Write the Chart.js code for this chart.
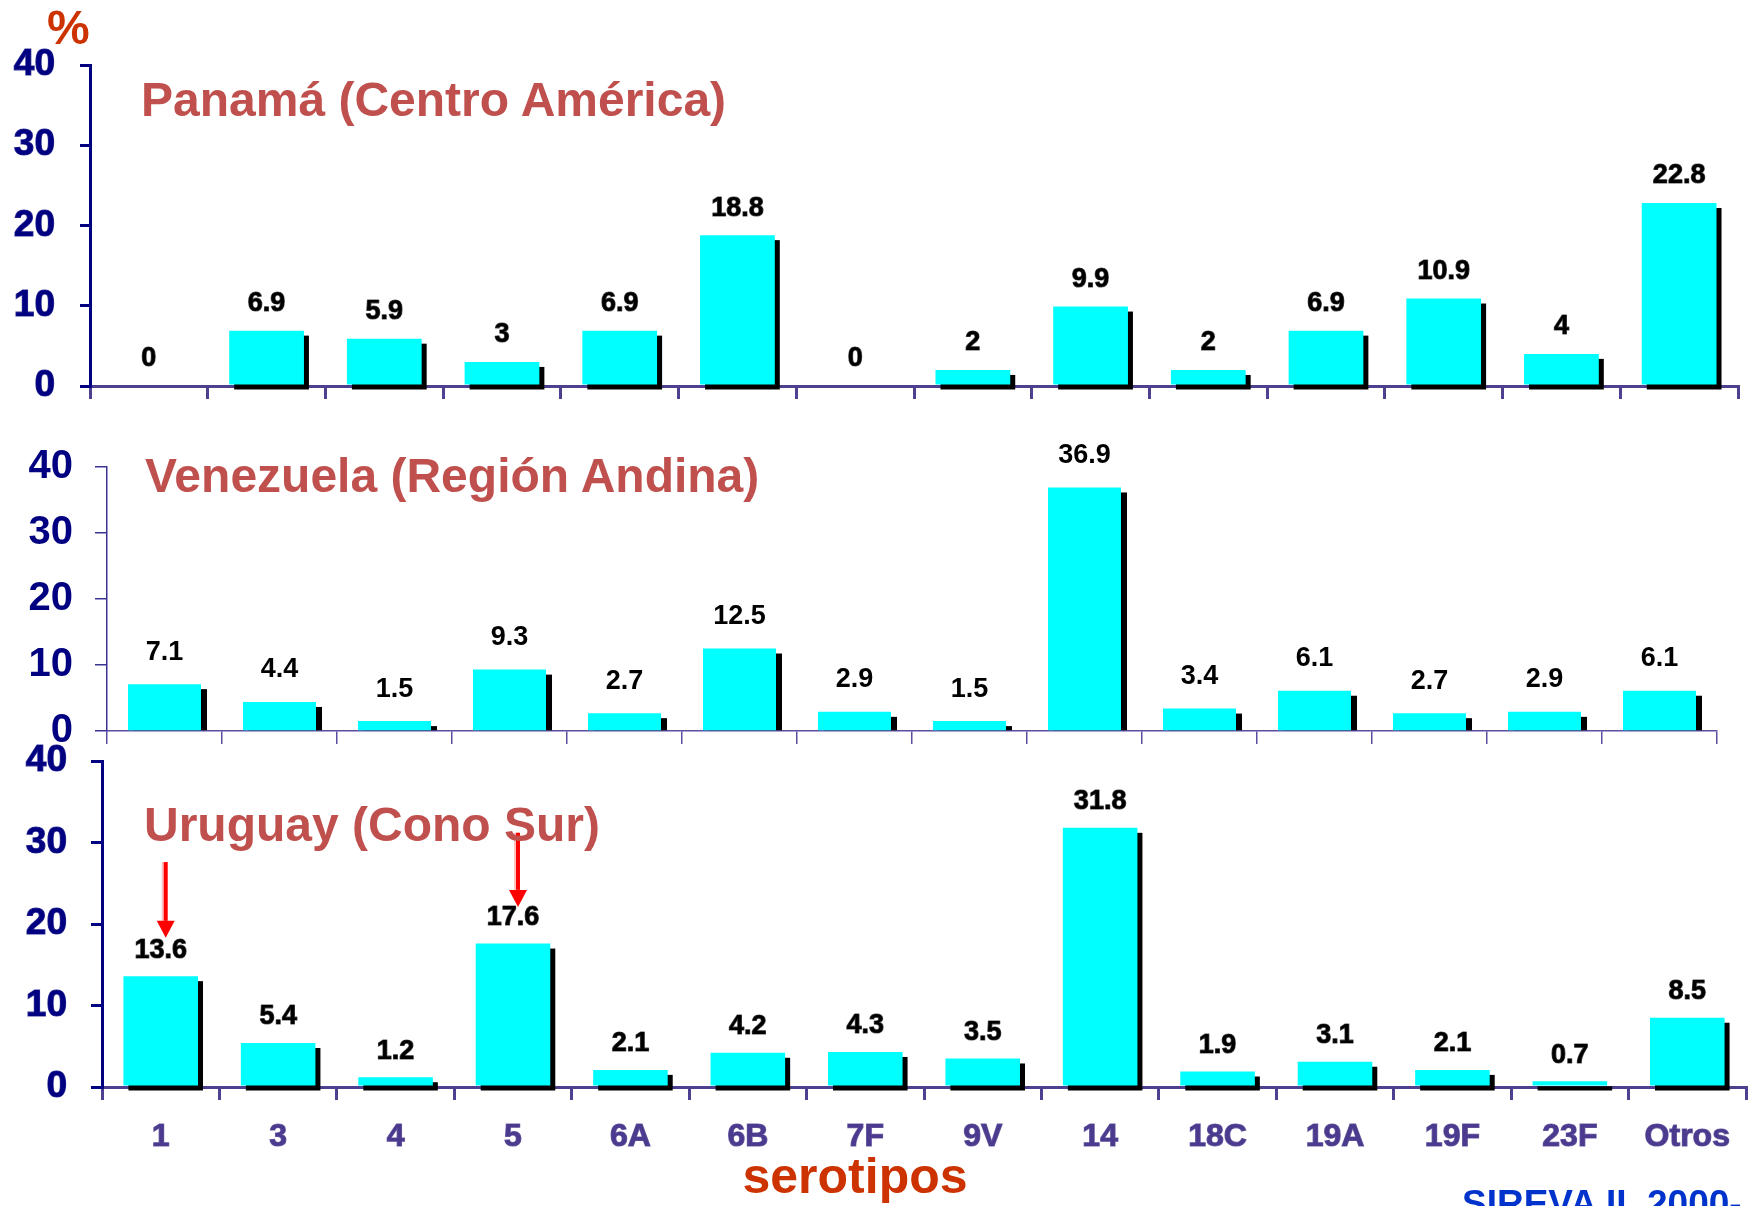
<!DOCTYPE html>
<html lang="es">
<head>
<meta charset="utf-8">
<title>Serotipos por región</title>
<script src="https://cdn.jsdelivr.net/npm/chart.js@4.4.1/dist/chart.umd.min.js"></script>
<style>
  html, body { margin: 0; padding: 0; background: #fff; }
  body { position: relative; width: 1750px; height: 1206px; overflow: hidden;
         font-family: "Liberation Sans", Arial, sans-serif; }
  canvas { position: absolute; left: 0; }
  .t { position: absolute; white-space: nowrap; font-weight: bold; line-height: 1; }
  .region { font-size: 48px; color: #c0504d; }
</style>
</head>
<body>
<canvas id="cPanama" width="1750" height="436" style="top:0px"></canvas>
<canvas id="cVenezuela" width="1750" height="381" style="top:400px"></canvas>
<canvas id="cUruguay" width="1750" height="506" style="top:700px"></canvas>

<div class="t" style="left:47px;top:4px;font-size:48px;color:#cc3300">%</div>
<div class="t region" style="left:141px;top:76px">Panamá (Centro América)</div>
<div class="t region" style="left:145px;top:452px">Venezuela (Región Andina)</div>
<div class="t region" style="left:144px;top:801px">Uruguay (Cono Sur)</div>
<div class="t" style="left:855px;top:1151px;font-size:50px;color:#cc3300;transform:translateX(-50%)">serotipos</div>
<div class="t" style="left:1462px;top:1185px;font-size:37px;color:#0033cc">SIREVA II, 2000-</div>

<script>
// Serotypes on the x axis
const serotipos = ['1', '3', '4', '5', '6A', '6B', '7F', '9V', '14', '18C', '19A', '19F', '23F', 'Otros'];

// Percentage of isolates per serotype, by country
const panama    = [0, 6.9, 5.9, 3, 6.9, 18.8, 0, 2, 9.9, 2, 6.9, 10.9, 4, 22.8];
const venezuela = [7.1, 4.4, 1.5, 9.3, 2.7, 12.5, 2.9, 1.5, 36.9, 3.4, 6.1, 2.7, 2.9, 6.1];
const uruguay   = [13.6, 5.4, 1.2, 17.6, 2.1, 4.2, 4.3, 3.5, 31.8, 1.9, 3.1, 2.1, 0.7, 8.5];

// Value axis
const yMin = 0;
const yMax = 40;
const yStep = 10;

// Highlighted serotypes in the Uruguay panel (arrow from / to, in % units)
const arrowMarks = [
  { cat: '1', from: 27.6, to: 18.3 },
  { cat: '5', from: 31.2, to: 22.1 }
];

Chart.defaults.font.family = '"Liberation Sans", Arial, sans-serif';

// Black drop shadow behind each bar, offset down and to the right
const barShadow = {
  id: 'barShadow',
  beforeDatasetsDraw(chart, args, opts) {
    const ctx = chart.ctx;
    const meta = chart.getDatasetMeta(0);
    ctx.save();
    ctx.fillStyle = '#000';
    meta.data.forEach(bar => {
      const { x, y, base, width } = bar.getProps(['x', 'y', 'base', 'width'], true);
      if (base - y < 0.5) return;
      const h = opts.below ? base - y : base - y - opts.dy;
      if (h <= 0) return;
      ctx.fillRect(x - width / 2 + opts.dx, y + opts.dy, width, h);
    });
    ctx.restore();
  }
};

// Numeric value printed above every bar
const valueLabels = {
  id: 'valueLabels',
  afterDatasetsDraw(chart, args, opts) {
    const ctx = chart.ctx;
    const meta = chart.getDatasetMeta(0);
    const values = chart.data.datasets[0].data;
    ctx.save();
    ctx.fillStyle = '#000';
    ctx.strokeStyle = 'rgba(20,20,20,0.75)';
    ctx.lineWidth = opts.stroke;
    ctx.lineJoin = 'round';
    ctx.font = 'bold ' + opts.size + 'px "Liberation Sans", Arial, sans-serif';
    ctx.textAlign = 'center';
    ctx.textBaseline = 'middle';
    meta.data.forEach((bar, i) => {
      const { x, y } = bar.getProps(['x', 'y'], true);
      const txt = String(values[i]);
      if (opts.stroke > 0) ctx.strokeText(txt, x, y - opts.gap);
      ctx.fillText(txt, x, y - opts.gap);
    });
    ctx.restore();
  }
};

// Red pointer arrows
const pointerArrows = {
  id: 'pointerArrows',
  afterDatasetsDraw(chart, args, opts) {
    if (!opts.marks) return;
    const ctx = chart.ctx;
    const xs = chart.scales.x, ys = chart.scales.y;
    ctx.save();
    opts.marks.forEach(m => {
      const x = xs.getPixelForValue(xs.getLabels().indexOf(m.cat)) + 5;
      const y0 = ys.getPixelForValue(m.from);
      const y1 = ys.getPixelForValue(m.to);
      const head = 17;
      ctx.fillStyle = 'rgba(255,140,140,0.55)';
      ctx.fillRect(x - 4, y0, 2, y1 - head - y0);
      ctx.fillStyle = '#ff0000';
      ctx.fillRect(x - 2, y0, 4, y1 - head - y0);
      ctx.beginPath();
      ctx.moveTo(x - 9, y1 - head);
      ctx.lineTo(x + 9, y1 - head);
      ctx.lineTo(x, y1);
      ctx.closePath();
      ctx.fill();
    });
    ctx.restore();
  }
};

function makePanel(id, values, s) {
  return new Chart(document.getElementById(id), {
    type: 'bar',
    data: {
      labels: serotipos,
      datasets: [{
        data: values,
        backgroundColor: '#00ffff',
        borderWidth: 0,
        barPercentage: 0.635,
        categoryPercentage: 1
      }]
    },
    plugins: [barShadow, valueLabels, pointerArrows],
    options: {
      responsive: false,
      animation: false,
      events: [],
      layout: { padding: { top: s.padTop, right: s.padRight, left: 0, bottom: 0 } },
      plugins: {
        legend: { display: false },
        tooltip: { enabled: false },
        title: { display: false },
        barShadow: s.shadow,
        valueLabels: { size: s.labelSize, gap: s.labelGap, stroke: s.textStroke },
        pointerArrows: { marks: s.arrows || null }
      },
      scales: {
        x: {
          offset: true,
          ticks: {
            display: s.showX,
            color: '#4b3a8e',
            font: { size: 32, weight: 'bold' },
            padding: 18,
            autoSkip: false,
            maxRotation: 0,
            textStrokeColor: 'rgba(75,58,142,0.8)',
            textStrokeWidth: s.textStroke
          },
          grid: {
            offset: true,
            drawOnChartArea: false,
            drawTicks: true,
            tickLength: 13,
            color: s.xColor,
            lineWidth: s.lineW
          },
          border: { display: true, color: s.xColor, width: s.lineW },
          afterFit(scale) { scale.height = s.xHeight; }
        },
        y: {
          min: yMin,
          max: yMax,
          ticks: {
            stepSize: yStep,
            color: '#000080',
            font: { size: s.yFont, weight: 'bold' },
            padding: s.yPad,
            textStrokeColor: 'rgba(0,0,128,0.8)',
            textStrokeWidth: s.textStroke
          },
          grid: {
            drawOnChartArea: false,
            drawTicks: true,
            tickLength: s.yTick,
            color: s.yColor,
            lineWidth: s.lineW
          },
          border: { display: true, color: s.yColor, width: s.lineW },
          afterFit(scale) { scale.width = s.yWidth; }
        }
      }
    }
  });
}

makePanel('cPanama', panama, {
  padTop: 65, padRight: 12, yWidth: 90, xHeight: 50,
  lineW: 3, xColor: '#4f3f8f', yColor: '#000080',
  yTick: 10, yPad: 25, yFont: 37,
  labelSize: 27, labelGap: 27, textStroke: 1.2, showX: false,
  shadow: { dx: 5, dy: 5, below: true }
});

makePanel('cVenezuela', venezuela, {
  padTop: 67, padRight: 33, yWidth: 107, xHeight: 50,
  lineW: 1.5, xColor: '#5b4ea0', yColor: '#3b3494',
  yTick: 12, yPad: 22, yFont: 40,
  labelSize: 27, labelGap: 32, textStroke: 0, showX: false,
  shadow: { dx: 6, dy: 5, below: false }
});

makePanel('cUruguay', uruguay, {
  padTop: 61, padRight: 4, yWidth: 102, xHeight: 119,
  lineW: 3, xColor: '#4f3f8f', yColor: '#000080',
  yTick: 11, yPad: 24, yFont: 37,
  labelSize: 27, labelGap: 26, textStroke: 1.2, showX: true,
  shadow: { dx: 5, dy: 5, below: true },
  arrows: arrowMarks
});
</script>
</body>
</html>
